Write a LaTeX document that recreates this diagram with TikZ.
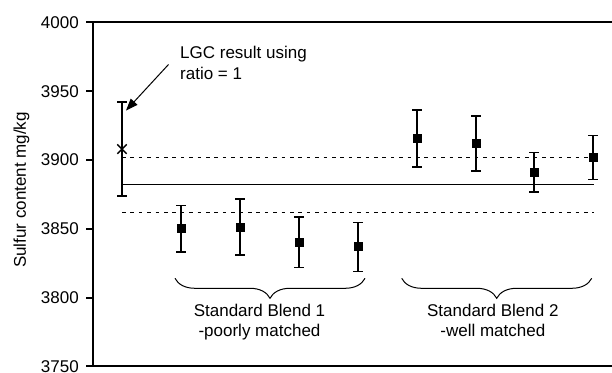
\documentclass[tikz,border=0pt]{standalone}
\usepackage{fontspec}
\setmainfont{Liberation Sans}
\usetikzlibrary{arrows.meta,decorations.pathreplacing,shapes.misc}

\begin{document}
\begin{tikzpicture}[
    x=1pt, y=1pt,
    every node/.style={font=\fontsize{17}{20}\selectfont},
    axisline/.style={line width=2pt},
    errbar/.style={line width=1.6pt},
    meanline/.style={line width=1.5pt},
    limitline/.style={line width=1.6pt, dash pattern=on 3.6pt off 4.8pt},
    sample/.style={rectangle, fill, minimum size=9pt, inner sep=0pt},
    lgcmark/.style={cross out, draw, minimum size=8pt, inner sep=0pt, line width=1.4pt},
    ticklabel/.style={anchor=east, inner sep=0pt},
    groupbrace/.style={
        decorate,
        decoration={brace, mirror, amplitude=20pt},
        line width=1pt
    }
]
\useasboundingbox (0,0) rectangle (612,372);

% ------------------------------------------------
% Data part: y in mg/kg, 3750 sits at the bottom edge
% ------------------------------------------------
\begin{scope}[y=1.376pt, yshift=-5154.5pt]

% axes and ticks
\draw[axisline] (92.5,3750) -- (92.5,4000);
\draw[axisline] (86,4000) -- (612,4000);
\draw[axisline] (86,3750) -- (612,3750);
\foreach \t in {3750,3800,...,4000} {
    \draw[axisline] (86,\t) -- (92.5,\t);
    \node[ticklabel] (tick\t) at (79,\t) {\t};
}

% reference value and limits
\draw[meanline] (122,3882.4) -- (594,3882.4);
\draw[limitline] (122,3902) -- (594,3902);
\draw[limitline] (122,3862) -- (594,3862);

% LGC result with its uncertainty
\draw[errbar] (122,3874) -- (122,3942);
\draw[errbar] (117,3874) -- (127,3874) (117,3942) -- (127,3942);
\node[lgcmark] (lgc) at (122,3908) {};

% standard blends: name / x / value / low / high
\foreach \n/\xx/\v/\lo/\hi in {
    sa/181/3850/3833/3867,
    sb/240/3851/3831/3871.5,
    sc/299/3840/3822/3858.5,
    sd/358/3837/3819/3854.5,
    se/417/3916/3895/3936.5,
    sf/476/3912/3892/3932,
    sg/534/3891/3877/3905.5,
    sh/593/3902/3886/3918}
{
    \draw[errbar] (\xx,\lo) -- (\xx,\hi);
    \draw[errbar] (\xx-5,\lo) -- (\xx+5,\lo) (\xx-5,\hi) -- (\xx+5,\hi);
    \node[sample] (\n) at (\xx,\v) {};
}

\coordinate (lgctip) at (126,3936);
\end{scope}

% ------------------------------------------------
% Labels, braces and the note
% ------------------------------------------------
\node[rotate=90] (ylabel) at (21.5,182) {Sulfur content mg/kg};

\draw[groupbrace] (175,93.7) -- (365,93.7);
\draw[groupbrace] (401.7,93.7) -- (591.7,93.7);

\node[anchor=north, align=center, inner sep=0pt] (blendA) at (259.5,67.7)
    {Standard Blend 1\\-poorly matched};
\node[anchor=north, align=center, inner sep=0pt] (blendB) at (492.8,67.7)
    {Standard Blend 2\\-well matched};

\node[anchor=north west, align=left, inner sep=0pt,
      font=\fontsize{17}{21}\selectfont] (note) at (180,326.1)
    {LGC result using\\ratio = 1};
\coordinate (notefoot) at (168.5,307.5);
\draw[-{Triangle[length=12pt,width=9pt]}, line width=1pt] (notefoot) -- (lgctip);

\end{tikzpicture}
\end{document}
